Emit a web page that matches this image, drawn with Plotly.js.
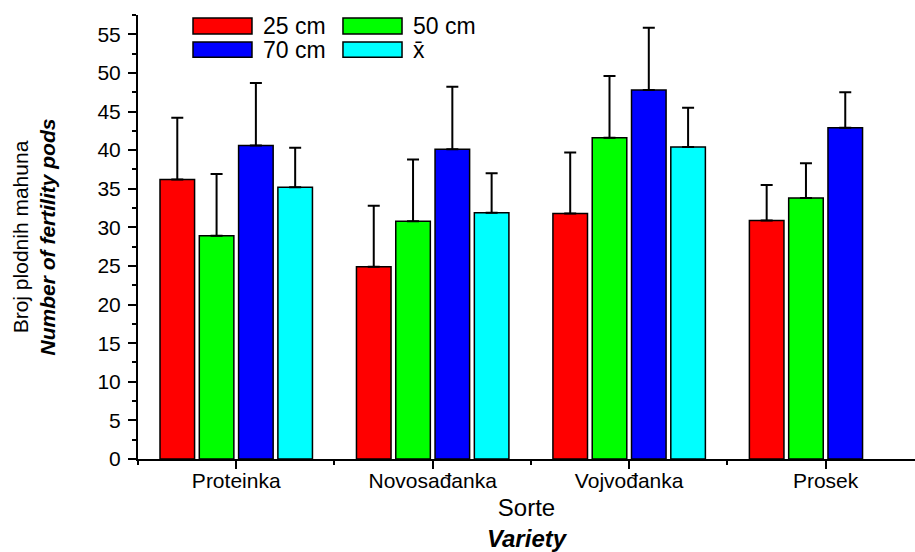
<!DOCTYPE html>
<html><head><meta charset="utf-8">
<script src="https://cdn.plot.ly/plotly-3.0.1.min.js"></script>
<style>body{margin:0;background:#fff}</style>
</head><body><div id="chart" style="width:915px;height:552px"></div>
<script>
const categories = ['Proteinka', 'Novosađanka', 'Vojvođanka', 'Prosek'];
const seriesNames = ['25 cm', '50 cm', '70 cm', 'x\u0304'];
const seriesColors = ['#ff0000', '#00ff00', '#0000ff', '#00ffff'];
const values25 = [36.2, 24.9, 31.8, 30.9];
const errors25 = [8.0, 7.9, 7.9, 4.6];
const values50 = [28.9, 30.8, 41.6, 33.8];
const errors50 = [8.0, 8.0, 8.0, 4.5];
const values70 = [40.6, 40.1, 47.8, 42.9];
const errors70 = [8.1, 8.1, 8.05, 4.6];
const valuesMean = [35.2, 31.9, 40.4, null];
const errorsMean = [5.1, 5.1, 5.1, null];
const yTitle = 'Broj plodnih mahuna<br><b><i>Number of fertility pods</i></b>';
const xTitle = 'Sorte<br><b><i>Variety</i></b>';

const allValues = [values25, values50, values70, valuesMean];
const allErrors = [errors25, errors50, errors70, errorsMean];
const xs = categories.map((c, i) => i);
const FONT = 'Liberation Sans, Arial, sans-serif';

const traces = allValues.map((vals, k) => ({
  type: 'bar',
  x: xs,
  y: vals,
  name: seriesNames[k],
  showlegend: false,
  marker: {color: seriesColors[k], line: {color: '#000', width: 1.5}},
  error_y: {
    type: 'data', symmetric: false,
    array: allErrors[k],
    arrayminus: allErrors[k].map(e => e == null ? null : 0),
    color: '#000', thickness: 2, width: 6
  }
}));

// manual legend (large swatches like the original)
const legendPos = [
  {x0: 0.0708, x1: 0.1467, y0: 0.957, y1: 0.993},
  {x0: 0.2638, x1: 0.3398, y0: 0.957, y1: 0.993},
  {x0: 0.0708, x1: 0.1467, y0: 0.905, y1: 0.939},
  {x0: 0.2638, x1: 0.3398, y0: 0.905, y1: 0.939}
];
const shapes = legendPos.map((p, k) => ({
  type: 'rect', xref: 'paper', yref: 'paper',
  x0: p.x0, x1: p.x1, y0: p.y0, y1: p.y1,
  fillcolor: seriesColors[k], line: {color: '#000', width: 1.5}
}));
const annotations = legendPos.map((p, k) => ({
  xref: 'paper', yref: 'paper', x: p.x1 + 0.011, y: (p.y0 + p.y1) / 2,
  xanchor: 'left', yanchor: 'middle', showarrow: false,
  text: seriesNames[k], font: {family: FONT, size: 23, color: '#000'}
}));

const layout = {
  width: 915, height: 552,
  margin: {l: 138, r: 0, t: 15, b: 93},
  paper_bgcolor: '#fff', plot_bgcolor: '#fff',
  barmode: 'group', bargap: 0.2, bargroupgap: 0.12,
  font: {family: FONT, size: 20, color: '#000'},
  xaxis: {
    range: [-0.5, 3.455], tickmode: 'array', tickvals: xs, ticktext: categories,
    showgrid: false, zeroline: false, showline: true, linecolor: '#000', linewidth: 2,
    ticks: 'outside', ticklen: 8, tickwidth: 2, tickcolor: '#000',
    minor: {dtick: 0.5, tick0: 0.5, ticks: 'outside', ticklen: 4, tickwidth: 2, tickcolor: '#000', showgrid: false},
    tickfont: {family: FONT, size: 21, color: '#000'},
    ticklabelstandoff: -6,
    title: {text: xTitle, font: {family: FONT, size: 24, color: '#000'}, standoff: 26},
    automargin: false
  },
  yaxis: {
    range: [0, 57.5], tick0: 0, dtick: 5,
    showgrid: false, zeroline: false, showline: true, linecolor: '#000', linewidth: 2,
    ticks: 'outside', ticklen: 8, tickwidth: 2, tickcolor: '#000',
    minor: {dtick: 2.5, ticks: 'outside', ticklen: 4, tickwidth: 2, tickcolor: '#000', showgrid: false},
    tickfont: {family: FONT, size: 21, color: '#000'},
    ticklabelstandoff: 3,
    title: {text: yTitle, font: {family: FONT, size: 21, color: '#000'}, standoff: 36},
    automargin: false
  },
  shapes: shapes,
  annotations: annotations
};

Plotly.newPlot('chart', traces, layout, {displayModeBar: false, staticPlot: true});
</script>
</body></html>
